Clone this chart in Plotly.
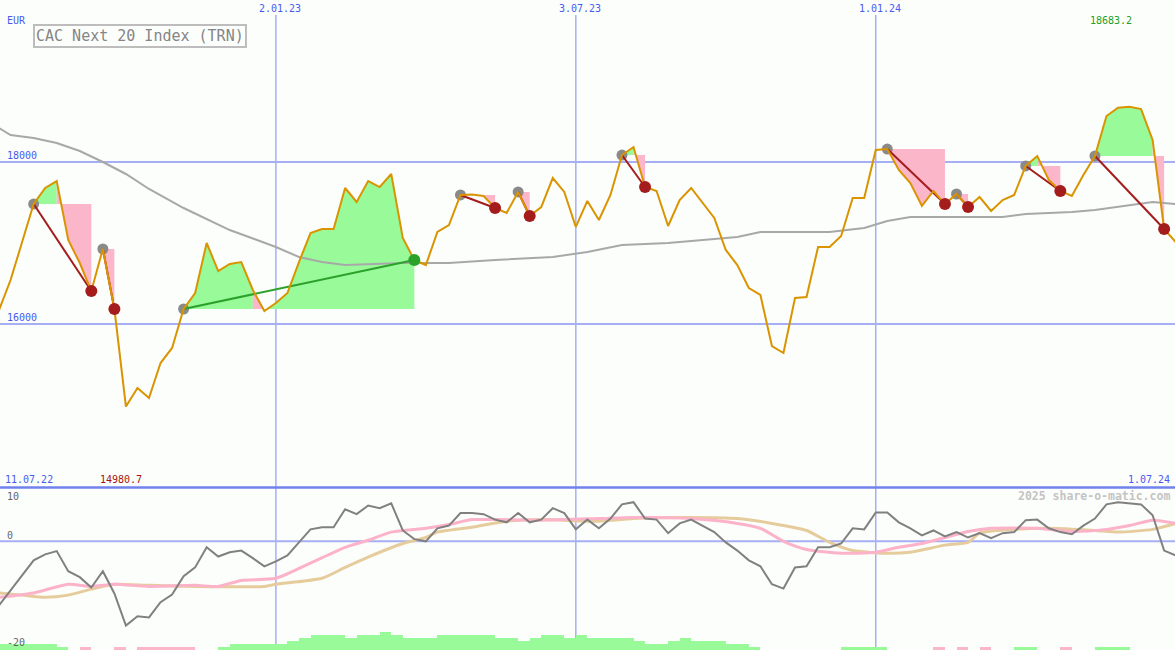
import pandas as pd
import plotly.graph_objects as go

# ---------------- data ----------------
start_week = "2022-07-18"
n_weeks = 103
weeks = pd.date_range(start_week, periods=n_weeks, freq="7D")

price = [16173, 16543, 17012, 17481, 17679, 17765, 17037, 16753, 16407, 16926,
         16185, 14980.7, 15210, 15086, 15518, 15704, 16185, 16383, 17000, 16654,
         16741, 16765, 16420, 16160, 16259, 16383, 16765, 17123, 17173, 17173,
         17679, 17506, 17765, 17691, 17852, 17062, 16790, 16728, 17136, 17222,
         17593, 17600, 17580, 17432, 17370, 17630, 17333, 17444, 17802, 17630,
         17198, 17519, 17284, 17593, 18086, 18185, 17691, 17642, 17210, 17531,
         17679, 17494, 17309, 16914, 16728, 16444, 16358, 15728, 15642, 16321,
         16333, 16951, 16951, 17086, 17556, 17556, 18148, 18160, 17901, 17741,
         17457, 17642, 17481, 17605, 17444, 17568, 17395, 17531, 17593, 17951,
         18074, 17778, 17642, 17580, 17840, 18074, 18568, 18670, 18683.2, 18654,
         18272, 17173, 17012]

# moving average (grey) read at selected weeks
ma_k = [0, 1, 3, 5, 7, 9, 11, 13, 16, 18, 20, 24, 26, 28, 30, 35, 39, 43, 48, 51,
        54, 58, 61, 64, 66, 72, 75, 77, 79, 85, 87, 89, 93, 95, 98, 100, 102]
ma_v = [18420, 18333, 18296, 18235, 18136, 18000, 17852, 17667, 17432, 17296,
        17160, 16951, 16827, 16765, 16728, 16753, 16753, 16790, 16827, 16889,
        16975, 17000, 17037, 17074, 17136, 17136, 17185, 17272, 17321, 17321,
        17321, 17358, 17383, 17407, 17469, 17506, 17481]

# trades: entry week index, exit week index
trade_entry = [3, 9, 16, 40, 45, 54, 77, 83, 89, 95]
trade_exit = [8, 10, 36, 43, 46, 56, 82, 84, 92, 101]

# lower panel oscillator (grey), weekly
osc = [-11.8, -9.0, -6.3, -3.5, -2.4, -1.8, -5.5, -6.6, -8.5, -5.5,
       -9.6, -15.5, -13.8, -14.0, -11.2, -9.8, -6.4, -4.8, -1.1, -2.8,
       -2.0, -1.7, -3.1, -4.6, -3.7, -2.6, -0.2, 2.2, 2.6, 2.6,
       5.9, 5.0, 6.6, 6.1, 7.0, 2.0, 0.4, 0.0, 2.4, 2.9,
       5.2, 5.2, 5.0, 4.0, 3.5, 5.2, 3.5, 4.0, 6.1, 5.2,
       2.2, 4.0, 2.4, 4.2, 6.8, 7.2, 4.2, 4.0, 1.5, 3.3,
       4.0, 2.9, 1.7, -0.2, -1.7, -3.5, -4.6, -7.9, -8.7, -4.8,
       -4.6, -1.1, -1.1, -0.4, 2.4, 2.2, 5.3, 5.3, 3.5, 2.4,
       1.1, 2.0, 0.9, 1.7, 0.7, 1.5, 0.6, 1.5, 1.7, 3.9,
       4.0, 2.4, 1.7, 1.3, 2.9, 4.2, 6.8, 7.2, 7.0, 6.8,
       4.8, -1.7, -2.6]

pink_k = [0, 3, 6, 8, 10, 13, 17, 19, 21, 24, 27, 30, 32, 34, 37, 39, 41, 43, 47, 52,
          55, 60, 64, 66, 68, 70, 73, 76, 78, 80, 82, 84, 86, 90, 93, 96, 98, 100, 102]
pink_v = [-10.3, -9.5, -7.9, -8.3, -7.9, -8.3, -8.1, -8.3, -7.2, -6.8,
          -4.0, -1.1, 0.2, 1.7, 2.4, 3.1, 4.0, 4.0, 3.9, 4.2,
          4.4, 4.2, 3.3, 2.4, 0.0, -1.5, -2.2, -2.0, -1.1, -0.4,
          0.7, 1.8, 2.4, 2.4, 1.8, 2.2, 2.9, 3.9, 3.3]

tan_k = [0, 2, 4, 6, 8, 10, 13, 17, 23, 24, 28, 30, 32, 35, 37, 38, 41, 44, 47, 52,
         55, 60, 64, 67, 70, 72, 74, 77, 79, 82, 84, 85, 88, 91, 95, 97, 100, 102]
tan_v = [-9.5, -9.9, -10.3, -9.9, -8.8, -7.9, -8.1, -8.3, -8.3, -7.9,
         -6.8, -4.8, -2.9, -0.4, 0.7, 1.7, 2.6, 3.7, 4.0, 3.7,
         4.2, 4.4, 4.2, 3.3, 2.0, -0.2, -1.7, -2.2, -2.0, -0.7,
         -0.2, 1.5, 2.2, 2.4, 2.0, 1.7, 2.2, 3.3]

# weekly signal strength bars (+ green, - pink)
signal = [2, 2, 2, 2, 2, 1, 0, -1, 0, 0,
          -1, 0, -1, -1, -1, -1, -1, 0, 0, 1,
          2, 2, 2, 2, 2, 3, 4, 5, 5, 5,
          4, 5, 5, 6, 5, 4, 4, 4, 5, 5,
          5, 5, 5, 4, 4, 3, 4, 5, 5, 4,
          5, 4, 4, 4, 4, 3, 2, 2, 3, 4,
          3, 3, 3, 2, 2, 1, 0, 0, 0, 0,
          0, 0, 0, 1, 1, 1, 1, 0, 0, 0,
          0, -1, 0, -1, 0, -1, 0, 0, 1, 1,
          0, 0, -1, 0, 0, 1, 1, 1, 0, 0,
          0, 0, 0]
bar_unit = 0.55

date_ticks = ["2023-01-02", "2023-07-03", "2024-01-01"]
date_tick_labels = ["2.01.23", "3.07.23", "1.01.24"]
price_ticks = [16000, 18000]
first_label, last_label = "11.07.22", "1.07.24"
title = "CAC Next 20 Index (TRN)"
currency = "EUR"

# ---------------- styling ----------------
W, H = 1175, 650
BG = "#fcfefc"
ORANGE = "#d99400"
GREEN_FILL = "#98fa98"
PINK_FILL = "#fcb6ca"
LOSS = "#a41c1c"
WIN = "#2aa22a"
GRID = "#a6aef4"
BLUE_TXT = "#4a5af0"
MONO = "DejaVu Sans Mono"
FS = 10

def pp(x, y):
    return x / W, 1 - y / H

fig = go.Figure()

# trade fills (per segment, coloured by whether the segment ends above the entry level)
for e, x in zip(trade_entry, trade_exit):
    L = price[e]
    groups = []
    cur, pts = None, []
    for j in range(e, x):
        c = "g" if price[j + 1] >= L else "p"
        if c != cur:
            if pts:
                groups.append((cur, pts))
            cur, pts = c, [j]
        pts.append(j + 1)
    groups.append((cur, pts))
    for c, pts in groups:
        xs = [weeks[i] for i in pts] + [weeks[pts[-1]], weeks[pts[0]]]
        ys = [price[i] for i in pts] + [L, L]
        fig.add_trace(go.Scatter(x=xs, y=ys, mode="lines", fill="toself",
                                 fillcolor=GREEN_FILL if c == "g" else PINK_FILL,
                                 line=dict(width=0), hoverinfo="skip"))

# moving average
fig.add_trace(go.Scatter(x=[weeks[k] for k in ma_k], y=ma_v, mode="lines",
                         line=dict(color="#a8a8a8", width=2)))

# entry markers
fig.add_trace(go.Scatter(x=[weeks[k] for k in trade_entry], y=[price[k] for k in trade_entry],
                         mode="markers", marker=dict(color="#8a8a8a", size=11)))

# trade lines
for e, x in zip(trade_entry, trade_exit):
    col = WIN if price[x] > price[e] else LOSS
    fig.add_trace(go.Scatter(x=[weeks[e], weeks[x]], y=[price[e], price[x]], mode="lines",
                             line=dict(color=col, width=2)))

# price
fig.add_trace(go.Scatter(x=weeks, y=price, mode="lines", line=dict(color=ORANGE, width=2)))

# exit markers
fig.add_trace(go.Scatter(x=[weeks[k] for k in trade_exit], y=[price[k] for k in trade_exit],
                         mode="markers",
                         marker=dict(color=[WIN if price[x] > price[e] else LOSS
                                            for e, x in zip(trade_entry, trade_exit)], size=12)))

# lower panel bars
bx, by, bc = [], [], []
for i, s in enumerate(signal):
    if s != 0:
        bx.append(weeks[i] + pd.Timedelta(days=3.5))
        by.append(abs(s) * bar_unit)
        bc.append(GREEN_FILL if s > 0 else PINK_FILL)
fig.add_trace(go.Bar(x=bx, y=by, base=-20, width=7 * 86400000, marker=dict(color=bc, line=dict(width=0)),
                     yaxis="y2"))

fig.add_trace(go.Scatter(x=[weeks[k] for k in tan_k], y=tan_v, mode="lines", yaxis="y2",
                         line=dict(color="#e6cc9c", width=3, shape="spline", smoothing=0.6)))
fig.add_trace(go.Scatter(x=[weeks[k] for k in pink_k], y=pink_v, mode="lines", yaxis="y2",
                         line=dict(color="#fcb2c8", width=3, shape="spline", smoothing=0.6)))
fig.add_trace(go.Scatter(x=weeks, y=osc, mode="lines", yaxis="y2",
                         line=dict(color="#808080", width=2)))

# ---------------- shapes ----------------
shapes = []
for d in date_ticks:
    shapes.append(dict(type="line", xref="x", yref="paper", x0=d, x1=d, y0=0, y1=1 - 15 / H,
                       line=dict(color=GRID, width=1.5), layer="below"))
for t in price_ticks:
    shapes.append(dict(type="line", xref="paper", yref="y", x0=0, x1=1, y0=t, y1=t,
                       line=dict(color=GRID, width=2), layer="below"))
shapes.append(dict(type="line", xref="paper", yref="y2", x0=0, x1=1, y0=0, y1=0,
                   line=dict(color=GRID, width=2), layer="below"))
shapes.append(dict(type="line", xref="paper", yref="paper", x0=0, x1=1,
                   y0=1 - 487.5 / H, y1=1 - 487.5 / H,
                   line=dict(color="#7282ec", width=2.5), layer="above"))

# ---------------- annotations ----------------
ann = []
def txt(text, x, y, color, size=FS, xanchor="left", bold=False, **kw):
    xp, yp = pp(x, y)
    ann.append(dict(text=f"<b>{text}</b>" if bold else text, x=xp, y=yp, xref="paper", yref="paper",
                    xanchor=xanchor, yanchor="middle", showarrow=False,
                    font=dict(family=MONO, size=size, color=color), **kw))

for d, lab in zip(date_ticks, date_tick_labels):
    ann.append(dict(text=lab, x=d, y=1 - 8 / H, xref="x", yref="paper", xanchor="center",
                    yanchor="middle", xshift=4, showarrow=False,
                    font=dict(family=MONO, size=FS, color=BLUE_TXT)))
for t in price_ticks:
    ann.append(dict(text=str(t), x=5 / W, y=t, xref="paper", yref="y", xanchor="left",
                    yanchor="bottom", yshift=-1, showarrow=False,
                    font=dict(family=MONO, size=FS, color=BLUE_TXT)))

txt(currency, 5, 20, BLUE_TXT)
xp, yp = pp(140, 36.5)
ann.append(dict(text=title, x=xp, y=yp, xref="paper", yref="paper", xanchor="center", yanchor="middle",
                showarrow=False, bordercolor="#bdbdbd", borderwidth=2, borderpad=1, bgcolor=BG,
                font=dict(family=MONO, size=15, color="#858585")))
txt(f"{max(price):.1f}", 1088, 20, "#22a022")
txt(f"{min(price):.1f}", 98, 479, "#a41414")
txt(first_label, 3, 479, BLUE_TXT)
txt(last_label, 1172, 479, BLUE_TXT, xanchor="right")
txt("10", 5, 496, "#666666")
txt("0", 5, 535, "#666666")
txt("-20", 5, 642, "#666666")
txt("2025 share-o-matic.com", 1172, 496, "#c4c4c4", 11.5, xanchor="right", bold=True)

fig.update_layout(
    width=W, height=H, margin=dict(l=0, r=0, t=0, b=0),
    paper_bgcolor=BG, plot_bgcolor=BG, showlegend=False, hovermode=False,
    barmode="overlay", bargap=0,
    xaxis=dict(type="date", range=["2022-07-18 14:00", "2024-06-30 14:00"], visible=False,
               showgrid=False, zeroline=False),
    yaxis=dict(domain=[1 - 486 / H, 1], range=[14000, 20000], visible=False,
               showgrid=False, zeroline=False),
    yaxis2=dict(domain=[0, 163 / H], range=[-20, 10], visible=False, anchor="x",
                showgrid=False, zeroline=False),
    shapes=shapes, annotations=ann,
)

fig.write_html("out.html", config={"displayModeBar": False},
               post_script="document.body.style.margin='0';document.body.style.background='%s';" % BG)
